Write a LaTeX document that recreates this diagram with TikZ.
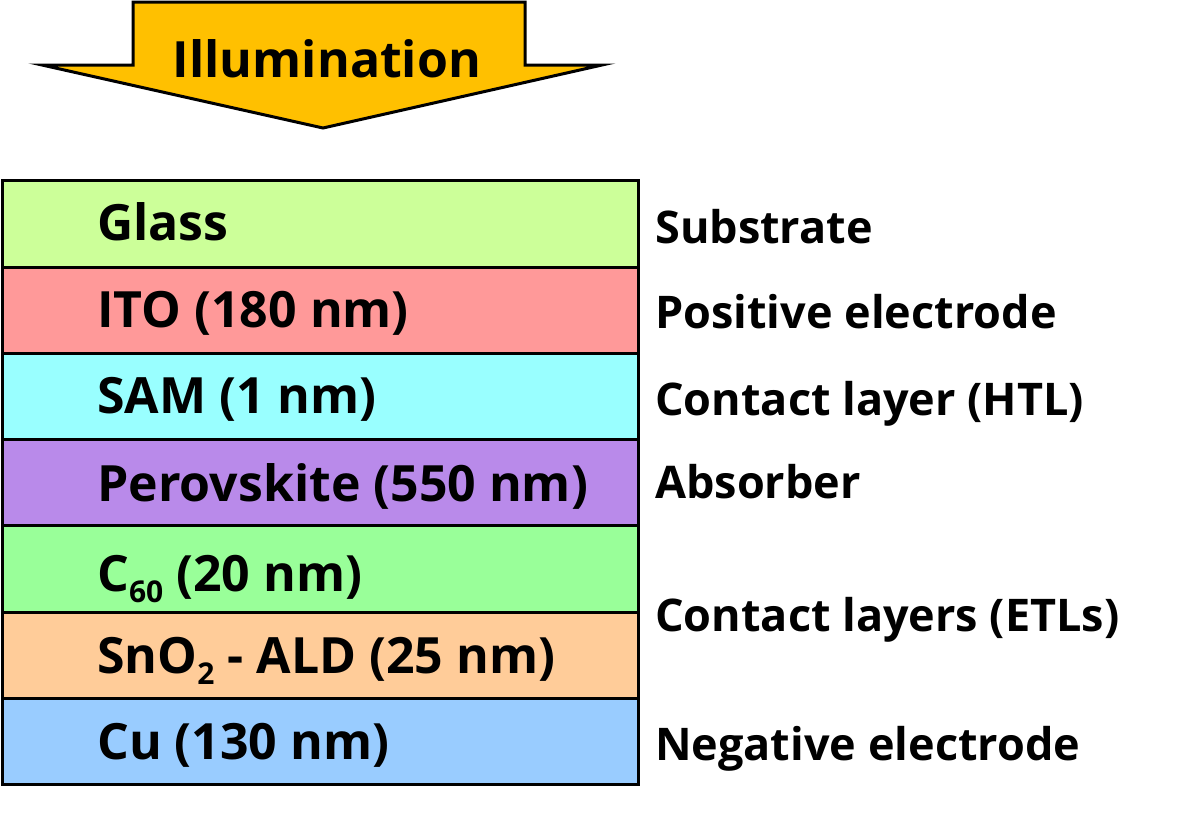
\documentclass[tikz,border=0pt]{standalone}
\usepackage{fontspec}
\setmainfont{Open Sans}
\definecolor{cglass}{RGB}{204,255,153}
\definecolor{cito}{RGB}{255,153,153}
\definecolor{csam}{RGB}{153,255,255}
\definecolor{cperov}{RGB}{185,138,234}
\definecolor{cc60}{RGB}{153,255,153}
\definecolor{csno}{RGB}{255,204,153}
\definecolor{ccu}{RGB}{153,204,255}
\definecolor{carrow}{RGB}{255,192,0}
\newcommand{\sbs}[1]{\raisebox{-11pt}{\fontsize{30}{30}\selectfont\bfseries #1}}
\tikzset{
  layer/.style={draw=black, line width=3pt},
  lbl/.style={anchor=base west, inner sep=0pt, font=\fontsize{50}{52}\selectfont\bfseries},
  side/.style={anchor=base west, inner sep=0pt, font=\fontsize{45}{48}\selectfont\bfseries},
}
\begin{document}
\begin{tikzpicture}[x=1pt,y=-1pt]
\useasboundingbox (0,0) rectangle (1203,814);
% arrow
\draw[fill=carrow, line width=3pt, line join=miter]
  (133,2) -- (525,2) -- (525,65) -- (602,65) -- (323,128) -- (42,65) -- (133,65) -- cycle;
\node[lbl, anchor=base] (illum) at (327,77) {Illumination};
% layers
\filldraw[layer, fill=cglass] (2,180) rectangle (638,267);
\filldraw[layer, fill=cito] (2,267) rectangle (638,353);
\filldraw[layer, fill=csam] (2,353) rectangle (638,439);
\filldraw[layer, fill=cperov] (2,439) rectangle (638,525);
\filldraw[layer, fill=cc60] (2,525) rectangle (638,612);
\filldraw[layer, fill=csno] (2,612) rectangle (638,698);
\filldraw[layer, fill=ccu] (2,698) rectangle (638,784);
% layer labels
\node[lbl] (glass) at (97,240) {Glass};
\node[lbl] (ito) at (97,327) {ITO (180 nm)};
\node[lbl] (sam) at (97,413) {SAM (1 nm)};
\node[lbl] (perov) at (97,501) {Perovskite (550 nm)};
\node[lbl] (c60) at (97,591) {C\sbs{60} (20 nm)};
\node[lbl] (sno) at (97,673) {SnO\sbs{2} - ALD (25 nm)};
\node[lbl] (cu) at (97,759) {Cu (130 nm)};
% right labels
\node[side] (sub) at (655,243) {Substrate};
\node[side] (pos) at (655,328) {Positive electrode};
\node[side] (htl) at (655,415) {Contact layer (HTL)};
\node[side] (abs) at (655,498) {Absorber};
\node[side] (etl) at (655,631) {Contact layers (ETLs)};
\node[side] (neg) at (655,760) {Negative electrode};
\end{tikzpicture}
\end{document}
